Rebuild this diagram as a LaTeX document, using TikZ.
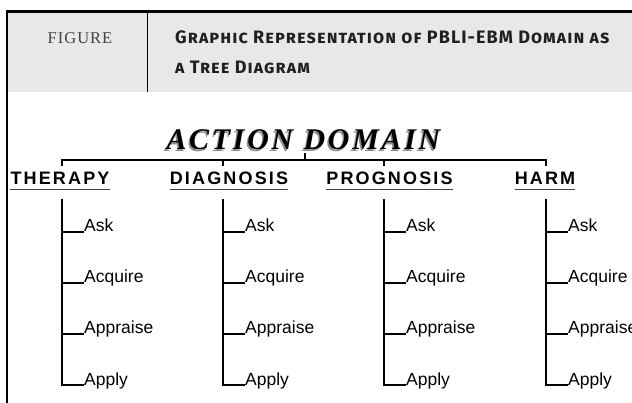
\documentclass[tikz,border=0pt]{standalone}
\usepackage{fontspec}
\setmainfont{Liberation Sans}
\newfontfamily\figfont{Liberation Serif}[LetterSpace=6]
\newfontfamily\headfont{Fira Sans}[LetterSpace=6]
\newfontfamily\actfont{Liberation Serif}[LetterSpace=9]
\newfontfamily\catfont{Liberation Sans}[LetterSpace=12]

\newlength{\du}
\setlength{\du}{1pt}

\definecolor{headgray}{rgb}{0.906, 0.910, 0.914}
\definecolor{figgray}{rgb}{0.260, 0.260, 0.260}
\definecolor{titleblack}{rgb}{0.137, 0.122, 0.125}
\definecolor{shadegray}{rgb}{0.550, 0.550, 0.550}

\tikzset{
  treeline/.style={line width=2.6\du, line join=miter},
  uline/.style={line width=1.5\du, draw=figgray},
  headtext/.style={anchor=base west, inner sep=0pt, text=titleblack, font=\headfont\bfseries\scshape\fontsize{18}{20}\selectfont},
  cat/.style={anchor=base, inner sep=0pt, font=\catfont\bfseries\fontsize{18}{20}\selectfont},
  leaf/.style={anchor=base west, inner sep=0pt, font=\fontsize{17.5}{20}\selectfont}
}

\begin{document}
\begin{tikzpicture}
\pgftransformxscale{1.000000}
\pgftransformyscale{-1.000000}
\useasboundingbox (0\du,0\du) rectangle (632\du,403\du);
\clip (0\du,0\du) rectangle (632\du,403\du);
% header band
\fill[headgray] (7\du,12\du) rectangle (632\du,92\du);
\draw[line width=3\du] (6\du,12\du) -- (632\du,12\du);
\draw[line width=1.2\du] (7\du,13\du) -- (7\du,403\du);
\draw[line width=1\du] (147\du,13\du) -- (147\du,92\du);
\node[anchor=base, inner sep=0pt, text=figgray, font=\figfont\fontsize{16.5}{18}\selectfont] (fig) at (80\du,43.5\du) {FIGURE};
\node[headtext] (title1) at (175\du,43.5\du) {Graphic Representation of PBLI-EBM Domain as};
\node[headtext] (title2) at (175\du,74\du) {a Tree Diagram};
% action domain
\node[anchor=base, inner sep=0pt, text=shadegray, font=\actfont\bfseries\itshape\fontsize{30}{32}\selectfont] (actshadow) at (302\du,151.5\du) {ACTION DOMAIN};
\node[anchor=base, inner sep=0pt, font=\actfont\bfseries\itshape\fontsize{30}{32}\selectfont] (act) at (303.5\du,150\du) {ACTION DOMAIN};
\coordinate (barmid) at (305\du,160\du);
\coordinate (therjoint) at (62\du,160\du);
\coordinate (diagjoint) at (223\du,160\du);
\coordinate (progjoint) at (384\du,160\du);
\coordinate (harmjoint) at (546\du,160\du);
\draw[treeline] (barmid |- act.base) ++(0,3\du) -- (barmid);
\draw[treeline] (therjoint) ++(0,6.5\du) -- (therjoint) -- (harmjoint) -- ++(0,6.5\du);
\draw[treeline] (diagjoint) -- ++(0,6.5\du);
\draw[treeline] (progjoint) -- ++(0,6.5\du);
% categories
\node[cat] (ther) at (60\du,184.5\du) {THERAPY};
\node[cat] (diag) at (229\du,184.5\du) {DIAGNOSIS};
\node[cat] (prog) at (389.5\du,184.5\du) {PROGNOSIS};
\node[cat] (harm) at (545\du,184.5\du) {HARM};
\coordinate (ulrow) at (0\du,189.5\du);
\draw[uline] (ther.west |- ulrow) -- (ther.east |- ulrow);
\draw[uline] (diag.west |- ulrow) -- (diag.east |- ulrow);
\draw[uline] (prog.west |- ulrow) -- (prog.east |- ulrow);
\draw[uline] (harm.west |- ulrow) -- (harm.east |- ulrow);
% therapy
\coordinate (therstem) at (62\du,199\du);
\node[leaf] (therask) at (84\du,232\du) {Ask};
\node[leaf] (theracq) at (84\du,283\du) {Acquire};
\node[leaf] (therapp) at (84\du,334\du) {Appraise};
\node[leaf] (therapl) at (84\du,385\du) {Apply};
\draw[treeline] (therstem) |- (therapl.base west);
\draw[treeline] (therstem |- therask.base) -- (therask.base west);
\draw[treeline] (therstem |- theracq.base) -- (theracq.base west);
\draw[treeline] (therstem |- therapp.base) -- (therapp.base west);
% diagnosis
\coordinate (diagstem) at (223\du,199\du);
\node[leaf] (diagask) at (245\du,232\du) {Ask};
\node[leaf] (diagacq) at (245\du,283\du) {Acquire};
\node[leaf] (diagapp) at (245\du,334\du) {Appraise};
\node[leaf] (diagapl) at (245\du,385\du) {Apply};
\draw[treeline] (diagstem) |- (diagapl.base west);
\draw[treeline] (diagstem |- diagask.base) -- (diagask.base west);
\draw[treeline] (diagstem |- diagacq.base) -- (diagacq.base west);
\draw[treeline] (diagstem |- diagapp.base) -- (diagapp.base west);
% prognosis
\coordinate (progstem) at (384\du,199\du);
\node[leaf] (progask) at (406\du,232\du) {Ask};
\node[leaf] (progacq) at (406\du,283\du) {Acquire};
\node[leaf] (progapp) at (406\du,334\du) {Appraise};
\node[leaf] (progapl) at (406\du,385\du) {Apply};
\draw[treeline] (progstem) |- (progapl.base west);
\draw[treeline] (progstem |- progask.base) -- (progask.base west);
\draw[treeline] (progstem |- progacq.base) -- (progacq.base west);
\draw[treeline] (progstem |- progapp.base) -- (progapp.base west);
% harm
\coordinate (harmstem) at (546\du,199\du);
\node[leaf] (harmask) at (568\du,232\du) {Ask};
\node[leaf] (harmacq) at (568\du,283\du) {Acquire};
\node[leaf] (harmapp) at (568\du,334\du) {Appraise};
\node[leaf] (harmapl) at (568\du,385\du) {Apply};
\draw[treeline] (harmstem) |- (harmapl.base west);
\draw[treeline] (harmstem |- harmask.base) -- (harmask.base west);
\draw[treeline] (harmstem |- harmacq.base) -- (harmacq.base west);
\draw[treeline] (harmstem |- harmapp.base) -- (harmapp.base west);
\end{tikzpicture}
\end{document}
